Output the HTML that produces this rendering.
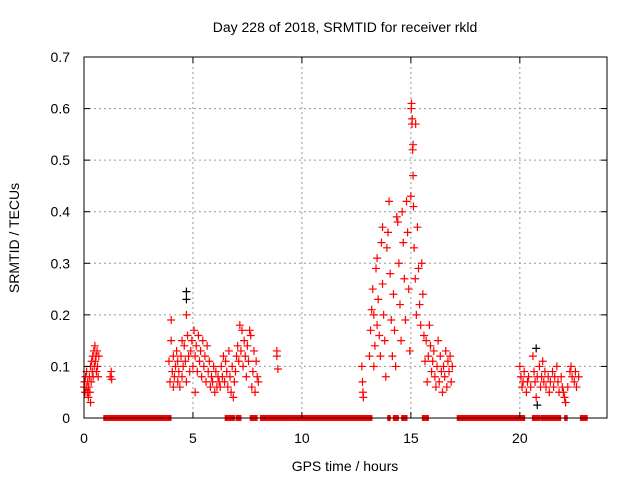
<!DOCTYPE html>
<html><head><meta charset="utf-8"><style>
body{margin:0;background:#fff}
svg{display:block;font-family:"Liberation Sans",sans-serif}
</style></head><body>
<svg id="chart" width="640" height="480" viewBox="0 0 640 480" xmlns="http://www.w3.org/2000/svg">
<text x="345" y="32" font-size="14" text-anchor="middle">Day 228 of 2018, SRMTID for receiver rkld</text>
<text transform="translate(19,238) rotate(-90)" font-size="14" text-anchor="middle">SRMTID / TECUs</text>
<text x="345" y="471" font-size="14" text-anchor="middle">GPS time / hours</text>
<g id="grid"></g>
<g id="zeros"></g>
<g id="black"></g>
<g id="red"></g>
<rect x="84" y="57" width="523" height="361" fill="none" stroke="#000" stroke-width="1"/>
<g id="ticks"></g>
</svg>
<script>
const xTicks=[0,5,10,15,20];
const yTicks=[0,0.1,0.2,0.3,0.4,0.5,0.6,0.7];
const yTickLabels=["0","0.1","0.2","0.3","0.4","0.5","0.6","0.7"];
const hours=[0.0,0.02,0.05,0.07,0.1,0.12,0.15,0.17,0.2,0.22,0.25,0.27,0.3,0.33,0.35,0.38,0.4,0.42,0.45,0.47,0.5,0.52,0.55,0.57,0.6,0.62,0.65,0.68,0.3,0.18,1.2,1.25,1.27,
3.9,3.95,4.0,4.0,4.05,4.1,4.1,4.15,4.2,4.25,4.3,4.3,4.35,4.4,4.45,4.5,4.5,4.55,4.6,4.65,4.7,4.7,4.75,4.8,4.85,4.9,4.95,5.0,5.05,5.1,5.1,5.15,5.2,5.25,5.3,5.35,5.4,5.45,5.5,5.55,5.6,5.65,5.7,5.75,5.8,5.85,5.9,5.95,6.0,6.05,6.1,6.15,6.2,6.25,6.3,6.35,6.4,6.45,6.5,6.55,6.6,6.65,6.7,6.75,6.8,6.85,6.9,6.95,7.0,7.05,7.1,7.15,7.2,7.25,7.3,7.35,7.4,7.45,7.5,7.55,7.6,7.65,7.7,7.75,7.8,7.85,7.9,7.95,8.0,
8.85,8.85,8.9,
12.75,12.78,12.8,12.82,13.1,13.15,13.2,13.25,13.3,13.35,13.3,13.4,13.45,13.45,13.5,13.55,13.6,13.65,13.7,13.7,13.75,13.8,13.85,13.9,13.95,14.0,14.05,14.1,14.15,14.2,14.25,14.3,14.35,14.4,14.45,14.5,14.55,14.6,14.65,14.7,14.75,14.8,14.85,14.9,14.95,15.0,15.02,15.05,15.08,15.1,15.12,15.15,15.2,15.22,15.25,15.3,15.35,15.4,15.45,15.5,15.55,15.6,15.65,15.7,15.75,15.8,15.85,15.9,15.95,16.0,16.05,16.1,16.15,16.2,16.25,16.3,16.35,16.4,16.45,16.5,16.55,16.6,16.65,16.7,16.75,16.8,16.85,16.9,15.03,15.06,15.1,
20.0,20.05,20.1,20.15,20.2,20.3,20.35,20.4,20.5,20.6,20.65,20.7,20.75,20.8,20.9,20.95,21.0,21.05,21.1,21.15,21.2,21.3,21.35,21.4,21.5,21.55,21.6,21.7,21.75,21.8,21.9,21.95,22.0,22.05,22.1,22.2,22.3,22.35,22.4,22.5,22.55,22.6,22.7];
const tecu=[0.06,0.07,0.05,0.08,0.06,0.09,0.05,0.07,0.04,0.06,0.08,0.05,0.1,0.07,0.11,0.09,0.12,0.08,0.13,0.1,0.14,0.11,0.12,0.09,0.13,0.1,0.08,0.12,0.03,0.05,0.08,0.09,0.075,
0.11,0.07,0.19,0.15,0.09,0.12,0.06,0.08,0.1,0.13,0.07,0.11,0.09,0.06,0.12,0.15,0.08,0.1,0.14,0.11,0.2,0.07,0.16,0.12,0.09,0.13,0.15,0.1,0.17,0.12,0.05,0.14,0.09,0.16,0.11,0.13,0.08,0.15,0.1,0.12,0.07,0.14,0.09,0.11,0.06,0.08,0.07,0.1,0.05,0.09,0.06,0.08,0.07,0.06,0.1,0.08,0.12,0.07,0.11,0.09,0.06,0.13,0.08,0.05,0.1,0.04,0.07,0.09,0.12,0.14,0.11,0.18,0.13,0.17,0.1,0.15,0.12,0.08,0.14,0.11,0.17,0.16,0.06,0.09,0.13,0.05,0.11,0.08,0.07,
0.13,0.12,0.095,
0.1,0.07,0.05,0.04,0.12,0.17,0.21,0.25,0.2,0.14,0.1,0.29,0.31,0.18,0.23,0.16,0.12,0.34,0.37,0.26,0.2,0.15,0.08,0.33,0.36,0.42,0.28,0.19,0.12,0.24,0.17,0.1,0.39,0.38,0.3,0.22,0.15,0.4,0.34,0.27,0.19,0.42,0.36,0.25,0.13,0.43,0.6,0.57,0.52,0.47,0.41,0.33,0.27,0.57,0.2,0.37,0.29,0.22,0.18,0.3,0.24,0.16,0.11,0.15,0.07,0.12,0.18,0.14,0.09,0.11,0.13,0.08,0.06,0.1,0.15,0.07,0.12,0.09,0.05,0.1,0.08,0.13,0.06,0.11,0.09,0.12,0.07,0.1,0.61,0.58,0.53,
0.1,0.08,0.06,0.07,0.09,0.05,0.07,0.08,0.06,0.12,0.09,0.07,0.04,0.08,0.1,0.06,0.08,0.11,0.07,0.09,0.06,0.08,0.05,0.07,0.09,0.06,0.08,0.1,0.07,0.05,0.08,0.06,0.05,0.04,0.03,0.06,0.09,0.1,0.08,0.07,0.09,0.06,0.08];
const blackHours=[4.7,4.7,20.75,20.8];
const blackTecu=[0.245,0.23,0.135,0.025];
const zeroStart=[0.93,6.5,7.0,7.65,8.12,9.04,12.78,13.96,14.22,14.6,15.55,17.15,20.6,21.0,22.08,22.8];
const zeroEnd=[3.97,6.88,7.18,7.92,9.0,12.7,13.19,14.03,14.4,14.8,15.78,20.2,20.9,21.85,22.15,23.07];

const X0=84,X1=607,Y0=418,Y1=57,XMAX=24,YMAX=0.7;
const xs=h=>X0+h/XMAX*(X1-X0);
const ys=v=>Y0-v/YMAX*(Y0-Y1);
const NS="http://www.w3.org/2000/svg";
function mk(tag,attrs,parent){const e=document.createElementNS(NS,tag);for(const k in attrs)e.setAttribute(k,attrs[k]);parent.appendChild(e);return e;}
const grid=document.getElementById('grid'),ticks=document.getElementById('ticks');
xTicks.forEach((t,i)=>{
  const x=xs(t);
  if(t>0){const g=mk('line',{x1:x,x2:x,y1:Y1,y2:Y0,stroke:'#999','stroke-dasharray':'2,3'},grid);
  
  }
  const a=mk('line',{x1:x,x2:x,y1:Y0,y2:Y0-6,stroke:'#000'},ticks);
  
  
  const b=mk('line',{x1:x,x2:x,y1:Y1,y2:Y1+6,stroke:'#000'},ticks);
  
  
  const l=mk('text',{x:x,y:443,'font-size':14,'text-anchor':'middle'},ticks);l.textContent=String(t);
  
  
});
yTicks.forEach((t,i)=>{
  const y=ys(t);
  if(t>0&&t<YMAX){const g=mk('line',{x1:X0,x2:X1,y1:y,y2:y,stroke:'#999','stroke-dasharray':'2,3'},grid);
  
  }
  const a=mk('line',{x1:X0,x2:X0+6,y1:y,y2:y,stroke:'#000'},ticks);
  
  
  const b=mk('line',{x1:X1,x2:X1-6,y1:y,y2:y,stroke:'#000'},ticks);
  
  
  const l=mk('text',{x:70,y:y+5,'font-size':14,'text-anchor':'end'},ticks);l.textContent=yTickLabels[i];
  
  
});
function plus(parent,h,v,color){
  const x=xs(h),y=ys(v);
  return mk('path',{d:`M${x-4},${y}H${x+4}M${x},${y-4}V${y+4}`,stroke:color,'stroke-width':1.2,fill:'none'},parent);
}
const zg=document.getElementById('zeros');
for(let i=0;i<Math.min(zeroStart.length,zeroEnd.length);i++){
  const r=mk('rect',{x:xs(zeroStart[i])-1,y:Y0-3,width:xs(zeroEnd[i])-xs(zeroStart[i])+2,height:6,fill:'#f00'},zg);
  
  
}
const bg=document.getElementById('black');
for(let i=0;i<Math.min(blackHours.length,blackTecu.length);i++){
  const p=plus(bg,blackHours[i],blackTecu[i],'#000');
  
  
}
const rg=document.getElementById('red');
for(let i=0;i<Math.min(hours.length,tecu.length);i++){
  const p=plus(rg,hours[i],tecu[i],'#f00');
  
  
}
</script>
</body></html>
